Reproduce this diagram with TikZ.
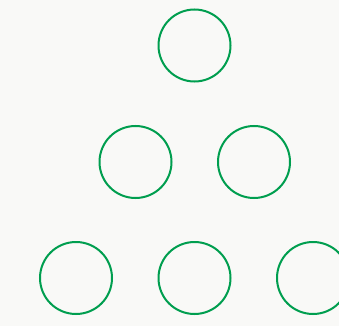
\documentclass[tikz,border=0pt]{standalone}
\definecolor{bgc}{HTML}{F9F9F7}
\definecolor{ringc}{HTML}{009E4F}
\begin{document}
\begin{tikzpicture}[x=1pt,y=-1pt,
  ring/.style={circle,draw=ringc,line width=2pt,minimum size=72pt,inner sep=0pt}]
\fill[bgc] (0,0) rectangle (339,326);
\useasboundingbox (0,0) rectangle (339,326);
\clip (0,0) rectangle (339,326);
\node[ring] (a) at (194.5,45.5) {};
\node[ring] (b) at (135.5,162) {};
\node[ring] (c) at (254,162) {};
\node[ring] (d) at (76,278) {};
\node[ring] (e) at (194.5,278) {};
\node[ring] (f) at (313,278) {};
\end{tikzpicture}
\end{document}
